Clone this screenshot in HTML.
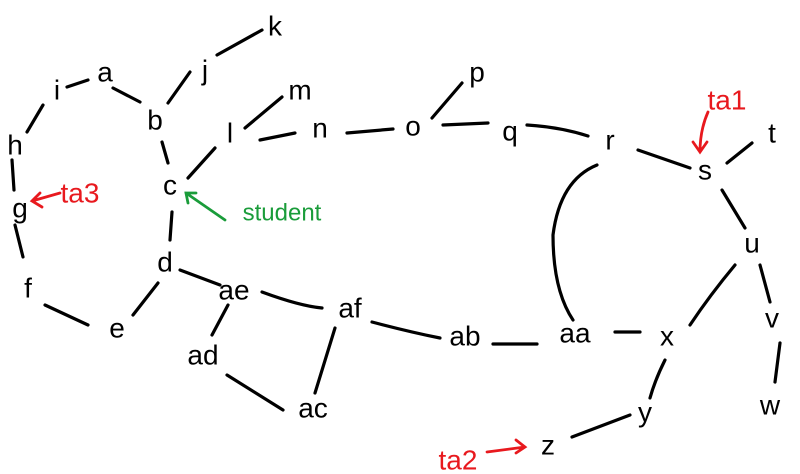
<!DOCTYPE html><html><head><style>body{margin:0;background:#fff}svg{display:block}text{font-family:"Liberation Sans",sans-serif;font-size:28px;text-anchor:middle;dominant-baseline:central}</style></head><body>
<svg width="800" height="474" viewBox="0 0 800 474">
<g stroke="#000" stroke-width="3.2" stroke-linecap="round" fill="none">
<path d="M262 30L217 55M190 72L168 103M113 88L140 102M88 80L67 87M43 105L27 132M12 160L14 190M15 225L23 257M45 305L88 325M133 315L158 283M172 212L170 240M162 142L168 163M188 178L215 148M245 128L282 97M260 140L295 133M347 133L393 129M432 118L462 83M443 125L488 123M527 125Q560 127 588 136M638 150L690 168M727 163L752 143M722 190L745 228M760 265L770 302M780 343L775 382M735 265Q710 295 690 325M615 332L640 332M493 344L537 344M372 322Q410 332 440 338M262 292Q300 306 322 308M180 270L220 285M228 305L212 335M227 375L283 410M335 328L315 393M665 360Q655 380 650 398M630 415L572 437M597 165Q560 180 553 235Q553 290 573 320"/>
</g>
<g fill="#000">
<text x="275" y="26">k</text><text x="205" y="70">j</text><text x="105" y="72">a</text><text x="57" y="90">i</text><text x="15" y="145">h</text><text x="155" y="120">b</text><text x="300" y="90">m</text><text x="230" y="133">l</text><text x="320" y="128">n</text><text x="170" y="185">c</text><text x="20" y="208">g</text><text x="165" y="262">d</text><text x="28" y="288">f</text><text x="117" y="328">e</text><text x="234" y="290">ae</text><text x="350" y="308">af</text><text x="203" y="355">ad</text><text x="313" y="408">ac</text>
<text x="413" y="126">o</text><text x="477" y="72">p</text><text x="510" y="131">q</text><text x="610" y="140">r</text><text x="772" y="133">t</text><text x="705" y="170">s</text><text x="752" y="243">u</text><text x="772" y="318">v</text><text x="770" y="405">w</text><text x="575" y="333">aa</text><text x="465" y="336">ab</text><text x="667" y="336">x</text><text x="645" y="412">y</text><text x="548" y="445">z</text>
</g>
<g fill="#e8191e" style="font-size:22px"><text x="80" y="193">ta3</text><text x="727" y="100">ta1</text><text x="458" y="460">ta2</text></g>
<text x="282" y="213" fill="#1a9c3a" style="font-size:24px">student</text>
<g stroke="#e8191e" stroke-width="2.8" fill="none" stroke-linecap="round"><path d="M60 193L32 201M40 193L32 201L42 207M708 112Q700 130 700 152M693 142L700 152L707 142M487 452L525 447M516 440L525 447L516 453"/></g>
<g stroke="#1a9c3a" stroke-width="2.8" fill="none" stroke-linecap="round"><path d="M225 220L186 193M188 203L186 193L196 193"/></g>
</svg></body></html>
